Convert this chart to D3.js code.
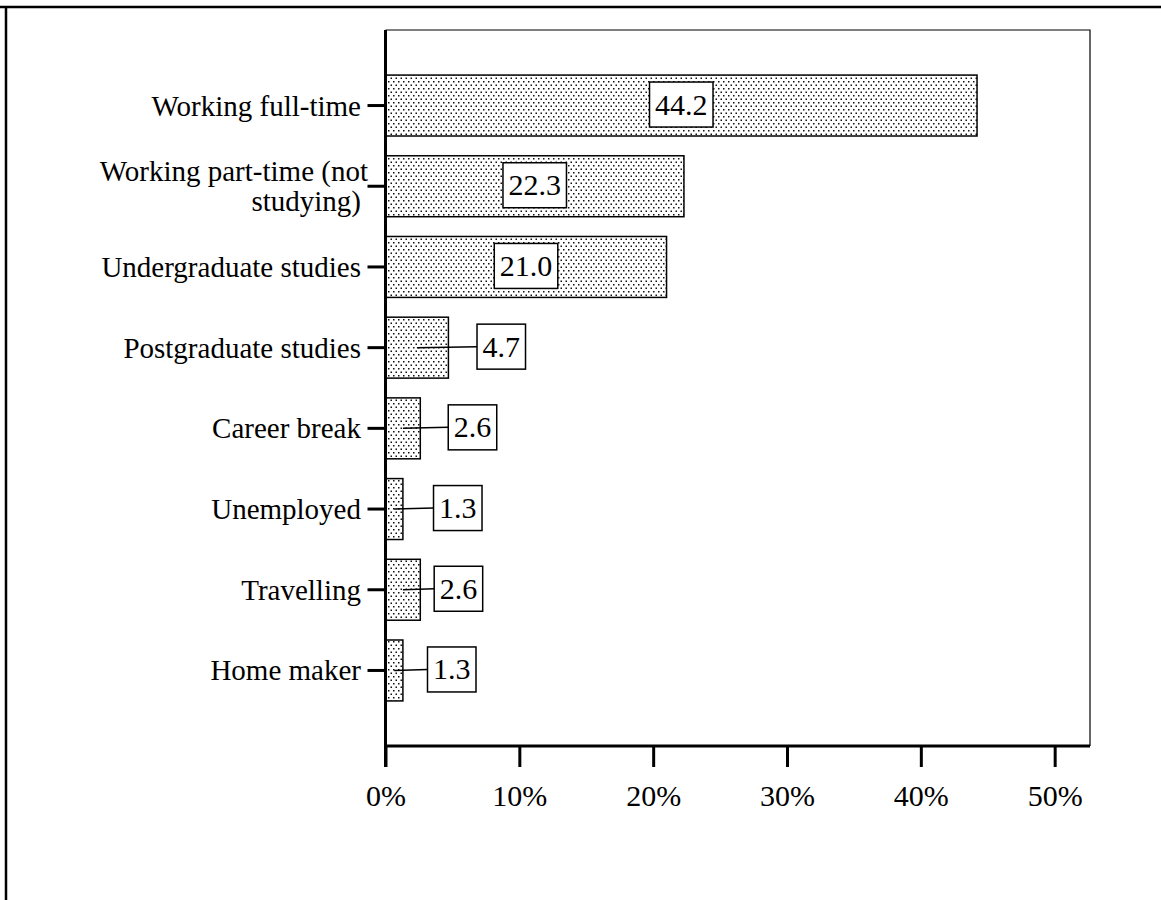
<!DOCTYPE html>
<html>
<head>
<meta charset="utf-8">
<script src="https://cdn.jsdelivr.net/npm/d3@7"></script>
<style>
  html, body { margin: 0; padding: 0; background: #fff; }
  svg { display: block; }
  text { font-family: "Liberation Serif", "Times New Roman", serif; fill: #000; }
</style>
</head>
<body>
<div id="chart"></div>
<script>
// Categories, top to bottom (second one wraps over two lines)
const categories = [
  'Working full-time',
  'Working part-time (not|studying)',
  'Undergraduate studies',
  'Postgraduate studies',
  'Career break',
  'Unemployed',
  'Travelling',
  'Home maker'
];
// Percent of respondents
const values = [44.2, 22.3, 21.0, 4.7, 2.6, 1.3, 2.6, 1.3];
// Where the value box sits, in percent (null = middle of the bar)
const labelAt = [null, null, null, 8.65, 6.5, 5.4, 5.45, 4.95];
const xTicks = [0, 10, 20, 30, 40, 50];

const width = 1161, height = 900;
const plot = { left: 385.5, right: 1090, top: 30, bottom: 746 };

const svg = d3.select('#chart').append('svg')
  .attr('width', width)
  .attr('height', height);

// dotted fill, like the SPSS pattern
const defs = svg.append('defs');
const pat = defs.append('pattern')
  .attr('id', 'dots')
  .attr('patternUnits', 'userSpaceOnUse')
  .attr('width', 5)
  .attr('height', 7);
pat.append('rect').attr('width', 5).attr('height', 7).attr('fill', '#fff');
pat.append('rect').attr('x', 0.5).attr('y', 0.5).attr('width', 1.5).attr('height', 1.5).attr('fill', '#111');
pat.append('rect').attr('x', 3).attr('y', 4).attr('width', 1.5).attr('height', 1.5).attr('fill', '#111');

// outer page border (top + left only)
svg.append('line').attr('x1', 0).attr('x2', width).attr('y1', 7).attr('y2', 7)
  .attr('stroke', '#000').attr('stroke-width', 2.5);
svg.append('line').attr('x1', 6).attr('x2', 6).attr('y1', 7).attr('y2', height)
  .attr('stroke', '#000').attr('stroke-width', 2.5);

const x = d3.scaleLinear()
  .domain([0, 52.64])
  .range([plot.left, plot.right]);

const y = d3.scaleBand()
  .domain(categories)
  .range([plot.top, plot.bottom])
  .paddingInner(0.245)
  .paddingOuter(0.5585);

// thin frame on top and right
svg.append('path')
  .attr('d', `M${plot.left},${plot.top}H${plot.right}V${plot.bottom}`)
  .attr('fill', 'none')
  .attr('stroke', '#000')
  .attr('stroke-width', 1.2);

// bars
svg.append('g')
  .selectAll('rect')
  .data(values)
  .join('rect')
    .attr('x', x(0))
    .attr('y', (d, i) => y(categories[i]))
    .attr('width', d => x(d) - x(0))
    .attr('height', y.bandwidth())
    .attr('fill', 'url(#dots)')
    .attr('stroke', '#000')
    .attr('stroke-width', 1.5);

// x axis
const xAxis = d3.axisBottom(x)
  .tickValues(xTicks)
  .tickFormat(d => d + '%')
  .tickSize(21)
  .tickPadding(18);

const gx = svg.append('g')
  .attr('transform', `translate(0,${plot.bottom})`)
  .call(xAxis);
gx.select('.domain').remove();
gx.selectAll('.tick line').attr('stroke', '#000').attr('stroke-width', 3);
gx.selectAll('.tick text')
  .attr('font-family', '"Liberation Serif", serif')
  .attr('font-size', 30)
  .attr('fill', '#000');
svg.append('line')
  .attr('x1', plot.left).attr('x2', plot.right)
  .attr('y1', plot.bottom).attr('y2', plot.bottom)
  .attr('stroke', '#000').attr('stroke-width', 3);

// y axis
const yAxis = d3.axisLeft(y).tickSize(18).tickFormat('');
const gy = svg.append('g')
  .attr('transform', `translate(${plot.left},0)`)
  .call(yAxis);
gy.select('.domain').remove();
gy.selectAll('.tick line').attr('stroke', '#000').attr('stroke-width', 3);
svg.append('line')
  .attr('x1', plot.left).attr('x2', plot.left)
  .attr('y1', plot.top).attr('y2', plot.bottom + 21)
  .attr('stroke', '#000').attr('stroke-width', 3);

// category labels
const catLabels = svg.append('g')
  .attr('font-size', 29)
  .attr('text-anchor', 'end');
categories.forEach(c => {
  const lines = c.split('|');
  const cy = y(c) + y.bandwidth() / 2;
  const t = catLabels.append('text')
    .attr('x', 361)
    .attr('y', cy - (lines.length - 1) * 15 + 10);
  lines.forEach((ln, k) => {
    t.append('tspan')
      .attr('x', k === 0 && lines.length > 1 ? 368 : 361)
      .attr('dy', k === 0 ? 0 : 30)
      .text(ln);
  });
});

// value boxes
const valueG = svg.append('g');
values.forEach((v, i) => {
  const cy = y(categories[i]) + y.bandwidth() / 2;
  const label = v.toFixed(1);
  const cx = labelAt[i] == null ? x(v / 2) : x(labelAt[i]);
  const t = valueG.append('text')
    .attr('x', cx)
    .attr('y', cy - 1 + 10)
    .attr('text-anchor', 'middle')
    .attr('font-size', 30)
    .text(label);
  const w = t.node().getComputedTextLength() + 11;
  const bh = 45;
  if (labelAt[i] != null) {
    valueG.insert('line', 'text')
      .attr('x1', x(v / 2)).attr('x2', cx - w / 2)
      .attr('y1', cy).attr('y2', cy - 1)
      .attr('stroke', '#000').attr('stroke-width', 1.5);
  }
  valueG.insert('rect', 'text')
    .attr('x', cx - w / 2)
    .attr('y', cy - 1 - bh / 2)
    .attr('width', w)
    .attr('height', bh)
    .attr('fill', '#fff')
    .attr('stroke', '#000')
    .attr('stroke-width', 1.5);
});
</script>
</body>
</html>
